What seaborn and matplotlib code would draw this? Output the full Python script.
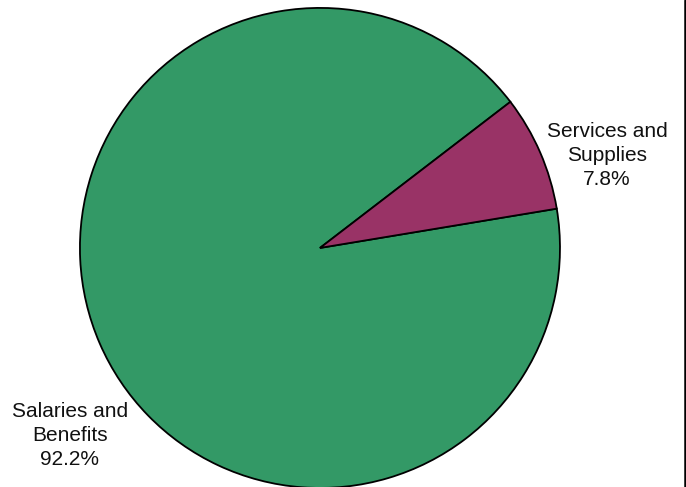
import matplotlib
matplotlib.use("Agg")
import matplotlib.pyplot as plt
from matplotlib.lines import Line2D
import seaborn as sns

# Budget split
categories = ["Salaries and\nBenefits", "Services and\nSupplies"]
shares = [92.2, 7.8]
colors = ["#339966", "#993366"]

sns.set_theme(style="white")
plt.rcParams["font.family"] = ["Liberation Sans", "DejaVu Sans"]

fig = plt.figure(figsize=(6.86, 4.87), dpi=100)
ax = fig.add_axes([0, 0, 1, 1])

wedges, _ = ax.pie(shares, colors=colors, startangle=37.5, counterclock=True,
                   radius=1.0, wedgeprops=dict(edgecolor="black", linewidth=1.3))

# label positions outside the pie
label_pos = [(-1.042, -0.78), (1.196, 0.385)]
for name, v, (x, y) in zip(categories, shares, label_pos):
    ax.text(x, y, f"{name}\n{v:.1f}%", ha="center", va="center",
            fontsize=15, color="#111111", linespacing=1.33)

ax.set_aspect("auto")
ax.set_xlim(-1.333, 1.525)
ax.set_ylim(-0.996, 1.033)
ax.axis("off")

# border line on the right edge
fig.add_artist(Line2D([0.9985, 0.9985], [0, 1], color="black", linewidth=1.8,
                      transform=fig.transFigure))

plt.savefig("out.png", dpi=100)
